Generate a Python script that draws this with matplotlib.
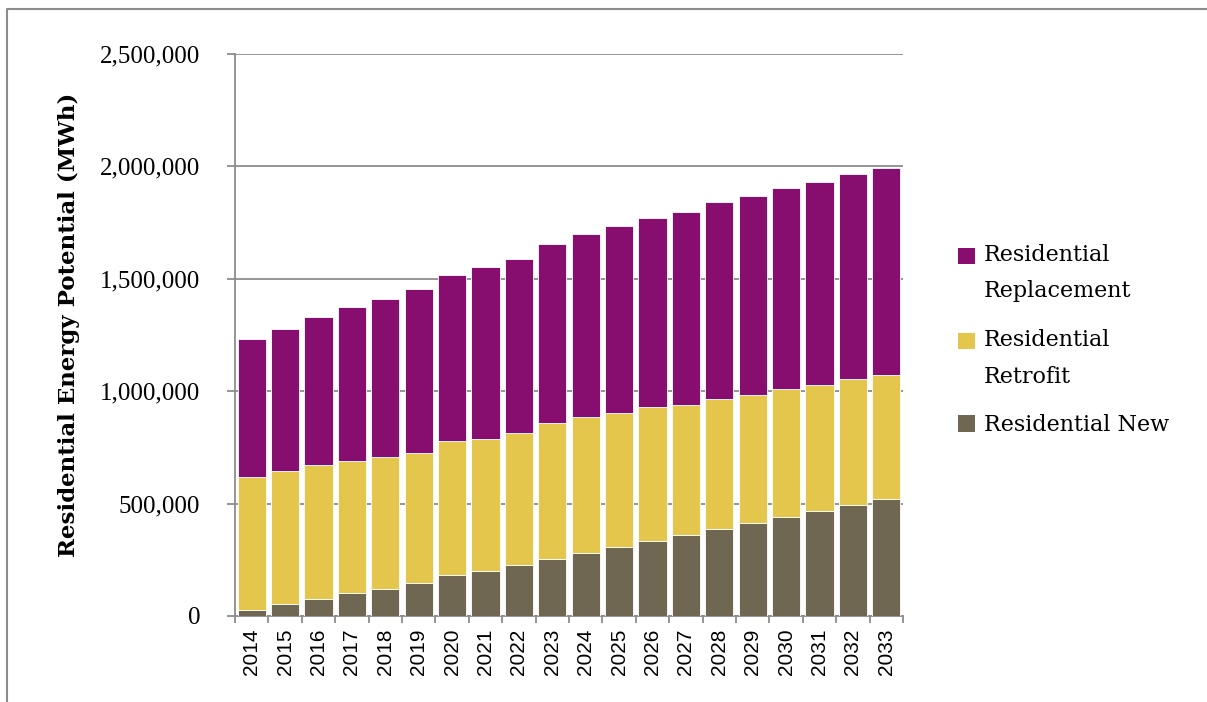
import numpy as np
import matplotlib.pyplot as plt
from matplotlib.lines import Line2D
from matplotlib.patches import Patch, Rectangle
from matplotlib.legend_handler import HandlerPatch
from matplotlib.ticker import FuncFormatter

# Data (MWh)
years = [str(y) for y in range(2014, 2034)]
res_new = [25000, 52000, 77000, 104000, 122000, 148000, 184000, 202000, 228000, 255000,
           282000, 308000, 335000, 362000, 389000, 415000, 442000, 469000, 495000, 522000]
res_retrofit_top = [619000, 645000, 673000, 690000, 708000, 725000, 779000, 788000, 814000, 859000,
                    886000, 903000, 930000, 939000, 966000, 984000, 1010000, 1028000, 1055000, 1073000]
res_total = [1231000, 1276000, 1329000, 1374000, 1409000, 1454000, 1516000, 1552000, 1586000, 1655000,
             1700000, 1736000, 1771000, 1798000, 1842000, 1869000, 1905000, 1931000, 1967000, 1994000]
res_retrofit = [t - n for t, n in zip(res_retrofit_top, res_new)]
res_replacement = [t - r for t, r in zip(res_total, res_retrofit_top)]

c_new = '#706753'
c_retro = '#E3C64B'
c_repl = '#870E6E'
serif = ['DejaVu Serif']
serif2 = ['Liberation Serif', 'DejaVu Serif']

fig = plt.figure(figsize=(12.07, 7.02), dpi=100)
ax = fig.add_axes([235 / 1207, 1 - 616 / 702, (903 - 235) / 1207, (616 - 54) / 702])

x = np.arange(len(years))
w = 0.85
ax.bar(x, res_new, w, color=c_new, edgecolor='white', linewidth=0.6, zorder=3)
ax.bar(x, res_retrofit, w, bottom=res_new, color=c_retro, edgecolor='white', linewidth=0.6, zorder=3)
ax.bar(x, res_replacement, w, bottom=res_retrofit_top, color=c_repl, edgecolor='white', linewidth=0.6, zorder=3)

ax.set_xlim(-0.5, len(years) - 0.5)
ax.set_ylim(0, 2500000)
ax.set_yticks(np.arange(0, 2500001, 500000))
ax.yaxis.set_major_formatter(FuncFormatter(lambda v, p: f'{int(v):,}'))
ax.grid(axis='y', color='#8c8c8c', linewidth=1.3, zorder=0)

# category ticks at the boundaries
ax.set_xticks(x)
ax.set_xticklabels(years, rotation=90, fontsize=15, family=['Liberation Sans', 'DejaVu Sans'])
ax.set_xticks(np.arange(-0.5, len(years)), minor=True)
ax.tick_params(axis='x', which='major', length=0, pad=9)
ax.tick_params(axis='x', which='minor', length=5, color='#8c8c8c', width=1.3)
ax.tick_params(axis='y', length=6, color='#8c8c8c', width=1.3, pad=19, labelsize=18)
for lab in ax.get_yticklabels():
    lab.set_family(serif2)

for s in ['top', 'right']:
    ax.spines[s].set_visible(False)
for s in ['left', 'bottom']:
    ax.spines[s].set_color('#8c8c8c')
    ax.spines[s].set_linewidth(1.3)

ax.set_ylabel('Residential Energy Potential (MWh)', fontsize=16.5, fontweight='bold', family=serif)
ax.yaxis.set_label_coords(-0.232, 0.518)


# legend square sits next to the first line of a two-line label
def top_square(legend, orig_handle, xdescent, ydescent, width, height, fontsize):
    return Rectangle((-xdescent, -ydescent + 13), width, height)


h_repl = Patch(facecolor=c_repl, label='Residential\nReplacement')
h_retro = Patch(facecolor=c_retro, label='Residential\nRetrofit')
h_new = Patch(facecolor=c_new, label='Residential New')
shifted = HandlerPatch(patch_func=top_square)
leg = fig.legend(handles=[h_repl, h_retro, h_new], loc='upper left',
                 bbox_to_anchor=(938 / 1207, 1 - 224 / 702), handler_map={h_repl: shifted, h_retro: shifted},
                 frameon=False, prop={'family': serif, 'size': 16}, handlelength=0.75, handleheight=0.75,
                 handletextpad=0.4, labelspacing=1.2)
for t in leg.get_texts():
    t.set_linespacing(1.85)

# outer frame (top and left only visible)
fig.add_artist(Line2D([7 / 1207, 7 / 1207, 1], [0, 1 - 9 / 702, 1 - 9 / 702], color='#8c8c8c', linewidth=1.5))

fig.savefig('out.png', dpi=100)
